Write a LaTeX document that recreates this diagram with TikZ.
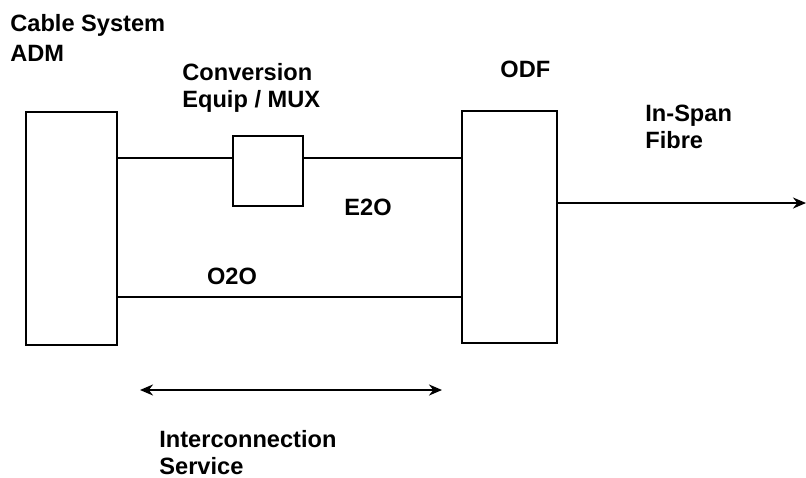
\documentclass[tikz,border=0pt]{standalone}
\usepackage{fontspec}
\setmainfont{Liberation Sans}
\usepackage{tikz}
\usetikzlibrary{arrows.meta, positioning, calc}
\tikzset{
  unit/.style={rectangle, draw=black, line width=1.4pt, inner sep=0pt},
  caption/.style={font=\bfseries\fontsize{11.8}{13.5}\selectfont, align=left, inner sep=0pt},
  link/.style={line width=1.1pt},
  arrow/.style={link, ->, >={Stealth[length=6.5pt, width=5.5pt]}}
}

\begin{document}
\begin{tikzpicture}[x=0.5pt, y=-0.5pt]
\useasboundingbox (0,0) rectangle (806,477);

\node (adm) [unit, minimum width=45.5pt, minimum height=116.5pt] at (71.5,228.5) {};
\node (mux) [unit, minimum width=35pt, minimum height=35pt] at (268,171) {};
\node (odf) [unit, minimum width=47.5pt, minimum height=116pt] at (509.5,227) {};

\node (admText) [caption, anchor=north west, font=\bfseries\fontsize{11.8}{15}\selectfont] at (10,14) {Cable System\\ADM};
\node (muxText) [caption, anchor=north west] at (182,63) {Conversion\\Equip / MUX};
\node (odfText) [caption, anchor=base west] at (500,77) {ODF};
\node (fibreText) [caption, anchor=north west] at (645,105) {In-Span\\Fibre};
\node (e2o) [caption] at (368,207) {E2O};
\node (o2o) [caption] at (232,276) {O2O};
\node (svcText) [caption, anchor=north west] at (159,430) {Interconnection\\Service};

\coordinate (fibreEnd) at (806,203);
\coordinate (svcL) at (140,390);
\coordinate (svcR) at (442,390);

\draw [link] (mux.160) -- (mux.160 -| adm.east);
\draw [link] (mux.20) -- (mux.20 -| odf.west);
\draw [link] ([yshift=-34.25pt]adm.east) coordinate (o2oL) -- (o2oL -| odf.west);
\draw [arrow] (fibreEnd -| odf.east) -- (fibreEnd);
\draw [arrow, <->] (svcL) -- (svcR);

\end{tikzpicture}
\end{document}
